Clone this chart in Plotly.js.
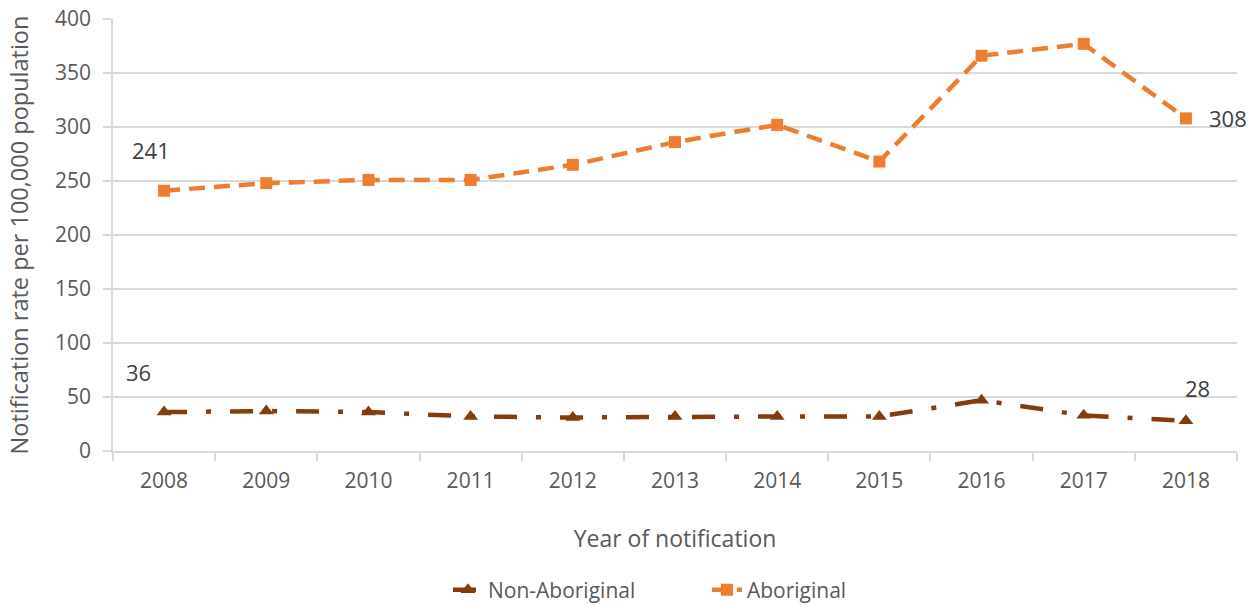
<!DOCTYPE html>
<html>
<head>
<meta charset="utf-8">
<script src="https://cdn.plot.ly/plotly-3.0.1.min.js"></script>
<style>body{margin:0;}#graphDiv{width:1254px;height:605px;}</style>
</head>
<body>
<div id="graphDiv"></div>
<script>
var years = ['2008','2009','2010','2011','2012','2013','2014','2015','2016','2017','2018'];
var nonAboriginal = [36, 37, 36, 32, 31, 32, 32, 32, 47, 33, 28];
var aboriginal = [241, 248, 251, 251, 265, 286, 302, 268, 366, 377, 308];

var trace1 = {
    x: years,
    y: nonAboriginal,
    name: 'Non-Aboriginal',
    type: 'scatter',
    mode: 'lines+markers',
    line: {color: '#843C0C', width: 4.5, dash: '23px,19px,5px,19px'},
    marker: {symbol: 'triangle-up', size: 13, color: '#843C0C'}
};

var trace2 = {
    x: years,
    y: aboriginal,
    name: 'Aboriginal',
    type: 'scatter',
    mode: 'lines+markers',
    line: {color: '#ED7D31', width: 4.5, dash: '16px,9px'},
    marker: {symbol: 'square', size: 12, color: '#ED7D31'}
};

var data = [trace1, trace2];

var lblFont = {family: 'Open Sans, sans-serif', size: 22, color: '#404040'};
var n = years.length - 1;

var layout = {
    width: 1254,
    height: 605,
    margin: {l: 113, r: 17, t: 19, b: 154, autoexpand: false},
    paper_bgcolor: '#ffffff',
    plot_bgcolor: '#ffffff',
    font: {family: 'Open Sans, sans-serif', size: 21, color: '#595959'},
    showlegend: true,
    legend: {orientation: 'h', x: 0.298, xanchor: 'left', y: -0.322, yanchor: 'middle',
             font: {size: 21, color: '#595959'}, traceorder: 'normal',
             entrywidth: 214, entrywidthmode: 'pixels'},
    xaxis: {
        type: 'category',
        range: [-0.5, n + 0.5],
        automargin: false,
        showgrid: false,
        showline: true, linecolor: '#d9d9d9', linewidth: 1.5,
        ticks: 'outside', tickson: 'boundaries', ticklen: 8, tickcolor: '#d9d9d9', tickwidth: 1.5,
        tickangle: 0,
        ticklabelstandoff: 10,
        tickfont: {size: 21, color: '#595959'},
        title: {text: 'Year of notification', font: {size: 23, color: '#595959'}, standoff: 38}
    },
    yaxis: {
        range: [0, 400],
        dtick: 50,
        automargin: false,
        showgrid: true, gridcolor: '#d9d9d9', gridwidth: 1.5,
        showline: true, linecolor: '#d9d9d9', linewidth: 1.5,
        ticks: 'outside', ticklen: 8, tickcolor: '#d9d9d9', tickwidth: 1.5,
        ticklabelstandoff: 8,
        zeroline: false,
        tickfont: {size: 21, color: '#595959'},
        title: {text: 'Notification rate per 100,000 population', font: {size: 23.5, color: '#595959'}, standoff: 20}
    },
    annotations: [
        {x: 0, y: aboriginal[0], text: String(aboriginal[0]), showarrow: false, xshift: -13, yshift: 41, font: lblFont},
        {x: n, y: aboriginal[n], text: String(aboriginal[n]), showarrow: false, xshift: 42, yshift: 0, font: lblFont},
        {x: 0, y: nonAboriginal[0], text: String(nonAboriginal[0]), showarrow: false, xshift: -26, yshift: 40, font: lblFont},
        {x: n, y: nonAboriginal[n], text: String(nonAboriginal[n]), showarrow: false, xshift: 12, yshift: 33, font: lblFont}
    ]
};

Plotly.newPlot('graphDiv', data, layout, {displayModeBar: false});
</script>
</body>
</html>
